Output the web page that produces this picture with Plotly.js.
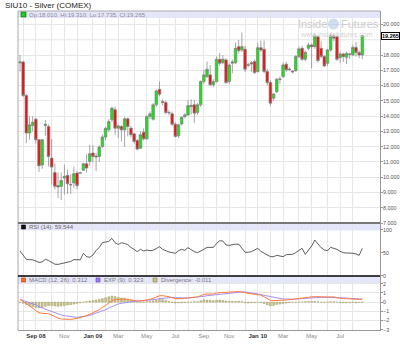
<!DOCTYPE html>
<html><head><meta charset="utf-8">
<script src="https://cdn.plot.ly/plotly-3.0.1.min.js"></script>
<style>html,body{margin:0;padding:0;background:#fff}#chart{width:400px;height:351px}</style>
</head><body><div id="chart"></div>
<script>
const firstWeek = '2008-07-28';
const opens = [17.48,17.55,15.35,12.90,13.39,13.80,12.45,10.80,13.38,13.32,11.25,10.30,9.45,9.40,9.94,10.12,9.52,9.62,10.27,10.27,10.45,10.88,11.03,11.58,11.38,11.36,12.01,12.63,13.10,13.76,14.41,13.21,13.32,13.10,13.82,13.21,12.84,12.40,11.90,12.95,12.51,13.97,13.80,14.74,15.76,14.95,14.89,14.24,14.15,13.47,12.71,13.49,13.97,14.08,14.62,14.74,14.24,14.74,16.26,16.59,16.70,16.05,16.26,17.72,17.50,17.68,16.26,17.46,17.50,18.55,18.33,18.38,17.37,17.50,17.57,16.92,18.48,18.38,16.92,16.20,15.17,15.60,16.41,16.59,17.40,17.08,16.95,16.98,17.90,18.44,17.72,18.44,18.66,18.55,19.20,18.44,17.90,17.46,18.33,19.25,19.20,17.83,18.07,17.85,18.05,18.00,18.50,18.16,18.01];
const highs = [18.00,17.60,15.45,13.98,14.00,13.90,12.50,12.50,13.75,13.45,12.50,10.90,10.30,10.30,10.82,10.50,10.20,10.70,10.40,10.35,10.95,11.50,12.12,12.10,11.60,12.10,12.80,13.30,13.80,14.63,14.63,13.45,13.40,13.93,13.90,13.35,12.90,12.50,12.99,13.20,14.05,14.30,14.85,15.75,16.26,15.10,15.00,14.40,14.30,13.60,13.50,14.00,14.20,15.06,15.10,15.07,14.85,16.35,17.03,17.57,17.35,16.40,17.90,18.12,18.00,17.80,17.45,17.70,18.81,18.99,19.47,18.60,17.50,17.60,17.70,18.80,18.94,18.95,17.10,16.35,15.50,16.50,16.60,17.50,17.57,17.20,17.00,18.00,18.55,18.60,18.30,18.80,18.75,19.40,19.30,18.90,18.00,18.40,19.42,19.35,19.30,18.20,18.15,18.20,18.15,18.65,18.85,18.30,19.31];
const lows = [16.92,15.25,12.23,12.45,13.00,12.20,10.35,10.55,12.70,10.70,9.51,9.20,8.64,8.50,8.86,8.90,8.90,9.30,9.20,10.20,10.40,10.30,10.75,10.95,10.40,11.00,11.90,12.40,12.95,13.60,12.78,12.56,12.34,11.97,12.67,12.60,12.20,11.75,11.85,12.40,12.45,13.80,13.70,14.60,15.30,14.70,14.10,14.05,13.35,12.60,12.56,13.40,13.85,14.00,14.10,13.55,14.10,14.60,16.10,16.50,15.95,15.90,16.20,17.30,17.40,16.10,16.10,16.80,17.40,18.10,18.20,16.90,17.20,16.90,16.75,16.85,18.20,16.80,16.00,14.67,15.00,15.50,16.10,16.50,16.90,16.95,16.80,16.90,17.80,17.60,17.60,18.30,17.13,18.40,17.50,17.80,17.20,17.30,18.20,18.90,17.60,17.50,17.55,17.40,17.75,17.95,17.90,17.80,17.735];
const closes = [17.55,15.35,12.89,13.43,13.60,12.45,10.75,12.45,13.47,11.36,10.66,9.40,9.36,9.79,10.05,9.57,9.50,10.23,9.45,10.29,10.88,10.60,11.54,11.36,11.33,11.97,12.63,13.20,13.65,14.52,13.21,13.36,13.10,13.82,13.32,12.78,12.34,11.84,12.78,12.51,13.97,14.15,14.74,15.65,15.43,14.89,14.24,14.22,13.47,12.67,13.43,13.93,14.08,14.69,14.70,14.19,14.74,16.26,16.70,17.07,16.05,16.26,17.72,17.46,17.72,16.20,17.35,17.55,18.44,18.29,18.55,17.07,17.33,17.42,16.85,18.48,18.33,16.92,16.20,14.85,15.45,16.41,16.43,17.35,17.03,17.05,16.90,17.90,18.40,17.72,18.18,18.66,18.55,19.25,17.64,17.90,17.29,18.33,19.25,19.10,17.72,18.07,17.90,18.11,18.07,18.50,18.16,18.00,19.265];
const rsi = [53.7,45,35.6,35,34.5,32,28.9,30,35.6,33,28.9,25,24.6,26,27.4,28,31,35,35,34.5,48.7,41.6,40.1,45,54.4,61.6,71.8,73,74.6,81,71.6,68,71.6,70,67.4,61.6,56.6,52.3,57.3,53.7,55.9,54.4,55.2,58.8,63,57.3,53.7,51.6,50.2,48.7,54.4,57.3,55.2,61,56.6,52.3,50.2,53,57.3,61.6,62.3,61.6,70,76,75.4,66.7,66,68,68.7,68.7,59.5,50.9,50.9,52.3,55.9,59.5,53,48.7,44.3,41.4,41.4,44.3,42.8,41.4,45.8,46.5,46.5,50.2,54.4,59.5,46.5,55.9,64.5,77.6,68.7,61,55.9,54.4,61.6,60,57.3,53,50.2,49.5,49.5,48.7,47.3,44.3,59.544];
const macd = [0.30,0.08,-0.17,-0.42,-0.65,-0.93,-1.15,-1.22,-1.22,-1.26,-1.40,-1.58,-1.73,-1.83,-1.87,-1.87,-1.87,-1.83,-1.80,-1.69,-1.58,-1.47,-1.33,-1.15,-1.00,-0.82,-0.60,-0.35,-0.06,0.16,0.27,0.30,0.30,0.34,0.30,0.23,0.16,0.12,0.12,0.16,0.23,0.30,0.41,0.56,0.70,0.70,0.67,0.59,0.48,0.37,0.37,0.37,0.41,0.45,0.48,0.52,0.56,0.70,0.84,0.88,0.88,0.88,0.99,1.06,1.06,1.06,1.06,1.10,1.14,1.17,1.14,1.03,0.95,0.92,0.88,0.88,0.77,0.59,0.37,0.19,0.16,0.16,0.16,0.19,0.23,0.27,0.30,0.34,0.37,0.41,0.45,0.52,0.59,0.59,0.56,0.52,0.52,0.52,0.56,0.56,0.48,0.41,0.37,0.37,0.34,0.34,0.30,0.30,0.312];
const signal = [0.30,0.19,0.08,-0.03,-0.13,-0.31,-0.50,-0.64,-0.79,-0.90,-1.00,-1.15,-1.26,-1.40,-1.47,-1.54,-1.58,-1.62,-1.65,-1.62,-1.58,-1.51,-1.44,-1.33,-1.22,-1.11,-0.97,-0.82,-0.64,-0.50,-0.31,-0.20,-0.13,-0.06,0.01,0.05,0.08,0.12,0.12,0.16,0.19,0.23,0.27,0.30,0.37,0.45,0.48,0.52,0.52,0.48,0.45,0.45,0.45,0.45,0.48,0.48,0.52,0.59,0.63,0.70,0.74,0.81,0.84,0.88,0.92,0.95,0.99,1.03,1.06,1.06,1.10,1.10,1.06,0.99,0.95,0.88,0.81,0.74,0.67,0.59,0.52,0.41,0.37,0.34,0.34,0.30,0.30,0.34,0.37,0.41,0.41,0.45,0.48,0.52,0.52,0.52,0.52,0.52,0.52,0.52,0.48,0.48,0.45,0.45,0.41,0.37,0.37,0.34,0.323];
const divergence = [0,-0.12,-0.25,-0.38,-0.5,-0.58,-0.62,-0.58,-0.45,-0.38,-0.38,-0.42,-0.45,-0.42,-0.38,-0.32,-0.28,-0.22,-0.15,-0.08,0,0.05,0.12,0.18,0.22,0.3,0.38,0.47,0.58,0.66,0.6,0.52,0.45,0.42,0.32,0.2,0.1,0.02,0,0.02,0.05,0.08,0.14,0.2,0.3,0.26,0.2,0.08,-0.03,-0.1,-0.08,-0.08,-0.04,0,0,0.04,0.04,0.15,0.25,0.22,0.2,0.15,0.2,0.22,0.18,0.12,0.08,0.07,0.08,0.1,0.04,-0.06,-0.1,-0.07,-0.07,0,-0.04,-0.15,-0.3,-0.4,-0.36,-0.25,-0.21,-0.15,-0.11,-0.04,0,0,0,0,0.04,0.07,0.1,0.08,0.04,0,0,0,0.04,0.04,0,-0.06,-0.08,-0.08,-0.07,-0.03,-0.07,-0.04,-0.011];
const tickDates = ['2008-08-04','2008-09-01','2008-10-06','2008-11-03','2008-12-01','2009-01-05','2009-02-02','2009-03-02','2009-04-06','2009-05-04','2009-06-01','2009-07-06','2009-08-03','2009-09-07','2009-10-05','2009-11-02','2009-12-07','2010-01-04','2010-02-01','2010-03-01','2010-04-05','2010-05-03','2010-06-07','2010-07-05','2010-08-02'];
const tickLabels = ['','<b>Sep 08</b>','','Nov','','<b>Jan 09</b>','','Mar','','May','','Jul','','Sep','','Nov','','<b>Jan 10</b>','','Mar','','May','','Jul',''];
// 19.000 is hidden behind the last-price box in the reference
const priceTicks = [7,8,9,10,11,12,13,14,15,16,17,18,20];
const priceGrid = [19];
const rsiTicks = [0,50,100];
const macdTicks = [-3,-2,-1,0,1,2];

// weekly dates
const dates = [];
{
  const d0 = new Date(firstWeek + 'T00:00:00Z');
  for (let i = 0; i < opens.length; i++) {
    const d = new Date(d0.getTime() + i * 7 * 86400000);
    dates.push(d.toISOString().slice(0, 10));
  }
}
const FONT = 'Liberation Sans, Arial, sans-serif';
const grey = t => t.startsWith('<b>') || t === '' ? t : '<span style="color:#888">' + t + '</span>';

const traces = [
  {type:'candlestick', x:dates, open:opens, high:highs, low:lows, close:closes, xaxis:'x', yaxis:'y',
   increasing:{line:{color:'#808080', width:0.7}, fillcolor:'#14e614'},
   decreasing:{line:{color:'#808080', width:0.7}, fillcolor:'#ee1111'},
   whiskerwidth:0, hoverinfo:'skip'},
  {type:'scatter', mode:'lines', x:dates, y:rsi, xaxis:'x', yaxis:'y2', line:{color:'#333', width:0.8}, hoverinfo:'skip'},
  {type:'bar', x:dates, y:divergence, xaxis:'x', yaxis:'y3', width:4*86400000,
   marker:{color:'#cac58f', line:{color:'#a09c60', width:0.5}}, hoverinfo:'skip'},
  {type:'scatter', mode:'lines', x:dates, y:signal, xaxis:'x', yaxis:'y3', line:{color:'#a58ef5', width:1}, hoverinfo:'skip'},
  {type:'scatter', mode:'lines', x:dates, y:macd, xaxis:'x', yaxis:'y3', line:{color:'#ff7a3c', width:1}, hoverinfo:'skip'}
];

const W = 362, T = 11, H = 319;
const px = X => (X - 18) / W;
const py = Y => (330 - Y) / H;

const rect = (x0, x1, y0, y1, fill, line) => ({type:'rect', xref:'paper', yref:'paper', x0:px(x0), x1:px(x1), y0:py(y1), y1:py(y0), fillcolor:fill, line:{width:line ? 0.6 : 0, color:line || fill}, layer:'above'});
const shapes = [
  {type:'rect', xref:'paper', yref:'paper', x0:0, x1:1, y0:py(18), y1:1, fillcolor:'#e6e6fa', line:{width:0}, layer:'between'},
  {type:'rect', xref:'paper', yref:'paper', x0:0, x1:1, y0:py(230.5), y1:py(223), fillcolor:'#e6e6fa', line:{width:0}, layer:'between'},
  {type:'rect', xref:'paper', yref:'paper', x0:0, x1:1, y0:py(283.5), y1:py(276), fillcolor:'#e6e6fa', line:{width:0}, layer:'between'},
  {type:'line', xref:'paper', yref:'paper', x0:0, x1:1, y0:1, y1:1, line:{color:'#aaa', width:1}},
  {type:'line', xref:'paper', yref:'paper', x0:0, x1:0, y0:0, y1:1, line:{color:'#aaa', width:1}},
  {type:'line', xref:'paper', yref:'paper', x0:0, x1:1, y0:py(223), y1:py(223), line:{color:'#777', width:2}},
  {type:'line', xref:'paper', yref:'paper', x0:0, x1:1, y0:py(276), y1:py(276), line:{color:'#000', width:1.5}},
  rect(21, 26, 12, 17, '#22cc22', '#116611'),
  rect(21.5, 25.5, 225, 229, '#111', '#000'),
  rect(21.5, 25.5, 278, 282, '#ff6a2a', '#b04010'),
  rect(96, 100, 278, 282, '#9b7df5', '#6040b0'),
  rect(153, 157, 278, 282, '#c8c08a', '#8c8650'),
  // watermark logo
  {type:'circle', xref:'paper', yref:'paper', x0:px(328), x1:px(339), y0:py(29.5), y1:py(18.5), fillcolor:'rgba(170,195,225,0.55)', line:{width:0}, layer:'above'}
].concat(priceGrid.map(v => ({type:'line', xref:'paper', yref:'y', x0:0, x1:1, y0:v, y1:v, line:{color:'#e6e6e6', width:1}, layer:'below'})));

const ann = (X, Y, text, size, color, extra) => Object.assign({xref:'paper', yref:'paper', x:px(X), y:py(Y), xanchor:'left', yanchor:'middle', showarrow:false, text:text, font:{family:FONT, size:size, color:color}}, extra || {});
const annotations = [
  ann(3, 5.5, 'SIU10 - Silver (COMEX)', 8, '#222'),
  ann(27, 14.5, 'Op:18.010, Hi:19.310, Lo:17.735, Cl:19.265', 6, '#8a8a9a'),
  ann(27, 227, 'RSI (14): 59.544', 6, '#666'),
  ann(27, 280, 'MACD (12, 26): 0.312', 6, '#777'),
  ann(102, 280, 'EXP (9): 0.323', 6, '#777'),
  ann(159, 280, 'Divergence: -0.011', 6, '#777'),
  ann(296, 24, 'Inside', 11, '#cccccc'),
  ann(339, 24, 'Futures', 11, '#cccccc'),
  ann(298, 34, 'www.insidefutures.com', 7, '#d2d2d2'),
  {xref:'paper', yref:'y', x:1, y:closes[closes.length-1], xanchor:'left', yanchor:'middle', xshift:1, showarrow:false,
   text:'<b>19.265</b>', font:{family:FONT, size:5.5, color:'#000'}, bgcolor:'#fff', bordercolor:'#000', borderwidth:1, borderpad:0}
];

const yBase = {side:'right', tickfont:{family:FONT, size:5.4, color:'#555'}, ticks:'outside', ticklen:2, tickcolor:'#999',
  ticklabelstandoff:-1,
  showline:true, linecolor:'#999', linewidth:1, gridcolor:'#e6e6e6', gridwidth:1, zeroline:false, fixedrange:true, anchor:'x'};

const layout = {
  width:400, height:351, margin:{l:18, r:20, t:T, b:21, pad:0},
  paper_bgcolor:'#fff', plot_bgcolor:'#fff', showlegend:false, hovermode:false, bargap:0.3,
  boxgap:0.12, boxgroupgap:0.08,
  xaxis:{type:'date', range:['2008-07-23 14:00','2010-10-01'], anchor:'y3', tickmode:'array', tickvals:tickDates,
    ticktext:tickLabels.map(grey), tickfont:{family:FONT, size:6, color:'#333'}, ticks:'', showgrid:true, gridcolor:'#e6e6e6',
    showline:true, linecolor:'#999', zeroline:false, rangeslider:{visible:false}, fixedrange:true},
  yaxis:Object.assign({}, yBase, {domain:[py(223), 1], range:[7.0, 20.884], tickmode:'array', tickvals:priceTicks, tickformat:'.3f'}),
  yaxis2:Object.assign({}, yBase, {domain:[py(276), py(223)], range:[-0.65, 114.6], tickmode:'array', tickvals:rsiTicks, showgrid:false}),
  yaxis3:Object.assign({}, yBase, {domain:[0, py(276)], range:[-3.03, 2.84], tickmode:'array', tickvals:macdTicks}),
  shapes:shapes, annotations:annotations
};
Plotly.newPlot('chart', traces, layout, {displayModeBar:false, staticPlot:true});
</script></body></html>
